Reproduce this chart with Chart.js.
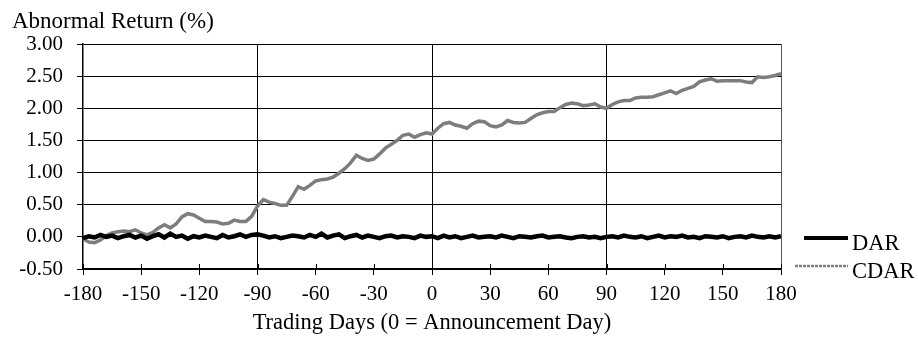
<!DOCTYPE html>
<html>
<head>
<meta charset="utf-8">
<script src="https://cdn.jsdelivr.net/npm/chart.js@4.4.1/dist/chart.umd.min.js"></script>
<style>
  html, body { margin: 0; padding: 0; background: #fff; }
  #wrap { width: 918px; height: 341px; }
</style>
</head>
<body>
<div id="wrap"><canvas id="grafico" width="918" height="341"></canvas></div>
<script>
// dias de negociação (a cada 3 dias)
const dias = [
  -180, -177, -174, -171, -168, -165, -162, -159, -156, -153, -150, -147, -144, -141, -138, -135,
  -132, -129, -126, -123, -120, -117, -114, -111, -108, -105, -102, -99, -96, -93, -90, -87,
  -84, -81, -78, -75, -72, -69, -66, -63, -60, -57, -54, -51, -48, -45, -42, -39,
  -36, -33, -30, -27, -24, -21, -18, -15, -12, -9, -6, -3, 0, 3,
  6, 9, 12, 15, 18, 21, 24, 27, 30, 33, 36, 39, 42, 45, 48, 51,
  54, 57, 60, 63, 66, 69, 72, 75, 78, 81, 84, 87, 90, 93, 96, 99,
  102, 105, 108, 111, 114, 117, 120, 123, 126, 129, 132, 135, 138, 141, 144, 147,
  150, 153, 156, 159, 162, 165, 168, 171, 174, 177, 180
];

// retorno anormal diário (DAR)
const dar = [
  -0.02, 0.01, -0.01, 0.03, 0.00, 0.02, -0.02, 0.01, 0.03, -0.01, 0.02, -0.03, 0.01, 0.04, -0.01, 0.05,
  0.00, 0.02, -0.03, 0.01, -0.01, 0.02, 0.00, -0.02, 0.03, -0.01, 0.01, 0.04, 0.00, 0.03, 0.04, 0.02,
  -0.01, 0.01, -0.02, 0.00, 0.02, 0.01, -0.01, 0.03, 0.00, 0.05, -0.01, 0.02, 0.04, -0.02, 0.01, 0.03,
  -0.01, 0.02, 0.00, -0.02, 0.01, 0.02, -0.01, 0.01, 0.00, -0.02, 0.02, 0.00, 0.01, -0.02,
  0.02, -0.01, 0.01, -0.02, 0.00, 0.02, -0.01, 0.00, 0.01, -0.01, 0.02, 0.00, -0.02, 0.01, 0.00, -0.01,
  0.01, 0.02, -0.01, 0.00, 0.01, -0.01, -0.02, 0.00, 0.01, -0.01, 0.00, -0.02, 0.00, 0.01, -0.01, 0.02,
  0.00, -0.01, 0.01, -0.02, 0.00, 0.02, -0.01, 0.01, 0.00, 0.02, -0.01, 0.00, -0.02, 0.01, 0.00, -0.01,
  0.01, -0.02, 0.00, 0.01, -0.01, 0.02, 0.00, -0.01, 0.01, -0.01, 0.01
];

// retorno anormal acumulado (CDAR)
const cdar = [
  -0.03, -0.08, -0.09, -0.05, 0.02, 0.06, 0.08, 0.09, 0.08, 0.11, 0.06, 0.03, 0.07, 0.14, 0.19, 0.14,
  0.20, 0.31, 0.36, 0.34, 0.29, 0.24, 0.24, 0.23, 0.20, 0.21, 0.26, 0.24, 0.24, 0.32, 0.48, 0.58,
  0.54, 0.52, 0.49, 0.49, 0.63, 0.78, 0.74, 0.80, 0.87, 0.89, 0.90, 0.93, 0.99, 1.06, 1.15, 1.27,
  1.22, 1.19, 1.21, 1.29, 1.38, 1.44, 1.50, 1.58, 1.60, 1.55, 1.59, 1.62, 1.60, 1.69,
  1.76, 1.78, 1.74, 1.72, 1.69, 1.76, 1.80, 1.79, 1.73, 1.71, 1.74, 1.81, 1.78, 1.77, 1.78, 1.84,
  1.90, 1.93, 1.95, 1.95, 2.01, 2.06, 2.08, 2.07, 2.04, 2.05, 2.07, 2.02, 2.00, 2.06, 2.10, 2.12,
  2.12, 2.16, 2.17, 2.17, 2.18, 2.21, 2.24, 2.27, 2.23, 2.28, 2.31, 2.34, 2.41, 2.44, 2.46, 2.42,
  2.43, 2.43, 2.43, 2.43, 2.41, 2.40, 2.49, 2.48, 2.49, 2.51, 2.54
];

const ticksX = [-180, -150, -120, -90, -60, -30, 0, 30, 60, 90, 120, 150, 180];
const linhasVerticais = [-90, 0, 90];

const fonte = '"Liberation Serif", "Times New Roman", serif';
Chart.defaults.font.family = fonte;
Chart.defaults.font.size = 21;
Chart.defaults.color = '#000';

// legenda desenhada à direita, ao lado do gráfico
const legendaDireita = {
    id: 'legendaDireita',
    afterDraw(chart) {
        const ctx = chart.ctx;
        const area = chart.chartArea;
        const itens = [
            { y: area.bottom - 31, x0: area.right + 23, w: 4, dash: [] },
            { y: area.bottom - 3, x0: area.right + 14, w: 2.5, dash: [3, 1] }
        ];
        ctx.save();
        chart.data.datasets.forEach((ds, i) => {
            const it = itens[i];
            ctx.beginPath();
            ctx.strokeStyle = ds.borderColor;
            ctx.lineWidth = it.w;
            ctx.setLineDash(it.dash);
            ctx.moveTo(it.x0, it.y);
            ctx.lineTo(area.right + 67, it.y);
            ctx.stroke();
            ctx.setLineDash([]);
            ctx.fillStyle = '#000';
            ctx.font = '22.5px ' + fonte;
            ctx.textBaseline = 'middle';
            ctx.fillText(ds.label, area.right + 71, it.y + 6);
        });
        ctx.restore();
    }
};

// pequenos traços dos ticks do eixo x também para dentro do gráfico
const ticksInternos = {
    id: 'ticksInternos',
    afterDatasetsDraw(chart) {
        const ctx = chart.ctx;
        const sx = chart.scales.x;
        const base = chart.chartArea.bottom;
        ctx.save();
        ctx.strokeStyle = '#000';
        ctx.lineWidth = 1;
        ticksX.forEach(v => {
            const px = Math.round(sx.getPixelForValue(v)) + 0.5;
            ctx.beginPath();
            ctx.moveTo(px, base);
            ctx.lineTo(px, base - 5);
            ctx.stroke();
        });
        ctx.restore();
    }
};

const ctx = document.getElementById('grafico').getContext('2d');
const grafico = new Chart(ctx, {
    type: 'line',
    data: {
        datasets: [{
            label: 'DAR',
            data: dias.map((d, i) => ({ x: d, y: dar[i] })),
            borderColor: '#000',
            borderWidth: 4.5,
            pointRadius: 0,
            tension: 0
        }, {
            label: 'CDAR',
            data: dias.map((d, i) => ({ x: d, y: cdar[i] })),
            borderColor: '#7d7d7d',
            borderWidth: 3.5,
            pointRadius: 0,
            tension: 0
        }]
    },
    options: {
        responsive: false,
        animation: false,
        layout: {
            padding: { left: 12, right: 137, top: 0, bottom: 6.5 }
        },
        plugins: {
            legend: { display: false },
            tooltip: { enabled: false },
            title: {
                display: true,
                text: 'Abnormal Return (%)',
                align: 'start',
                font: { size: 23, weight: 'normal' },
                padding: { top: 8, bottom: 8.4 }
            }
        },
        scales: {
            x: {
                type: 'linear',
                min: -180,
                max: 180,
                afterBuildTicks: (scale) => {
                    scale.ticks = ticksX.map(v => ({ value: v }));
                },
                ticks: {
                    padding: 9,
                    maxRotation: 0,
                    autoSkip: false,
                    font: { size: 21, lineHeight: 1 }
                },
                grid: {
                    color: (c) => {
                        const v = c.tick && c.tick.value;
                        if (v === 180) return '#555';
                        return linhasVerticais.includes(v) ? '#000' : 'rgba(0,0,0,0)';
                    },
                    tickColor: '#000',
                    tickLength: 6,
                    lineWidth: 1
                },
                border: { display: true, color: '#000', width: 1.5 },
                title: {
                    display: true,
                    text: 'Trading Days (0 = Announcement Day)',
                    font: { size: 22.5, lineHeight: 1 },
                    padding: { top: -2, bottom: 0 }
                }
            },
            y: {
                min: -0.5,
                max: 3,
                ticks: {
                    stepSize: 0.5,
                    padding: 14,
                    callback: (v) => v.toFixed(2)
                },
                grid: {
                    color: '#000',
                    tickColor: '#000',
                    tickLength: 6,
                    lineWidth: 1
                },
                border: { display: true, color: '#000', width: 1.5 },
                afterFit: (scale) => { scale.width = 71; }
            }
        }
    },
    plugins: [legendaDireita, ticksInternos]
});
</script>
</body>
</html>
